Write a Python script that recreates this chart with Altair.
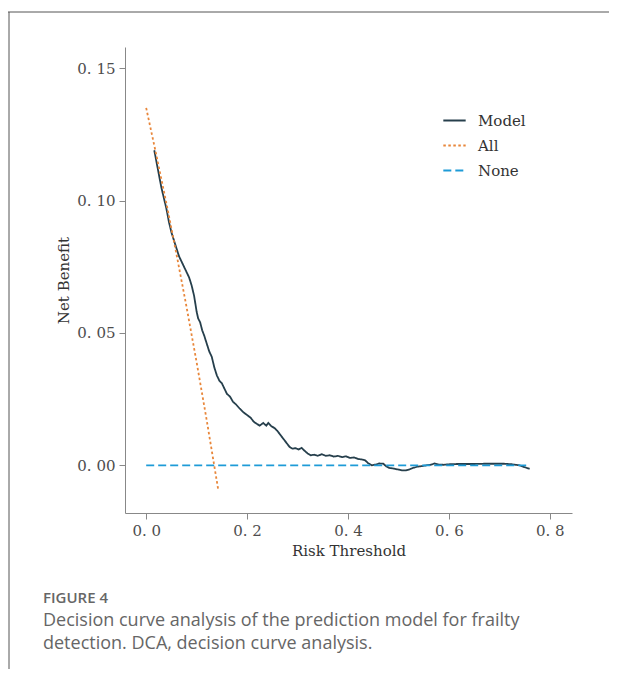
import altair as alt
import pandas as pd

# ---- data ----
model_t = [0.016, 0.020, 0.025, 0.030, 0.035, 0.040, 0.045, 0.050, 0.055, 0.060,
           0.065, 0.070, 0.075, 0.080, 0.085, 0.090, 0.095, 0.100, 0.103, 0.107,
           0.111, 0.115, 0.120, 0.125, 0.130, 0.135, 0.140, 0.145, 0.150, 0.155,
           0.160, 0.166, 0.172, 0.178, 0.185, 0.193, 0.200, 0.207, 0.213, 0.219,
           0.225, 0.232, 0.238, 0.242, 0.248, 0.255, 0.260, 0.266, 0.272, 0.278,
           0.284, 0.290, 0.296, 0.302, 0.308, 0.314, 0.320, 0.326, 0.333, 0.340,
           0.348, 0.356, 0.364, 0.372, 0.380, 0.388, 0.396, 0.404, 0.412, 0.420,
           0.428, 0.434, 0.440, 0.447, 0.455, 0.462, 0.470, 0.476, 0.482, 0.490,
           0.500, 0.508, 0.515, 0.522, 0.530, 0.538, 0.546, 0.555, 0.563, 0.572,
           0.580, 0.590, 0.600, 0.615, 0.630, 0.650, 0.670, 0.690, 0.710, 0.725,
           0.740, 0.750, 0.760]
model_nb = [0.119, 0.115, 0.110, 0.105, 0.101, 0.097, 0.092, 0.088, 0.085, 0.082,
            0.079, 0.077, 0.075, 0.073, 0.071, 0.068, 0.064, 0.058, 0.0555, 0.054,
            0.051, 0.049, 0.046, 0.043, 0.041, 0.037, 0.034, 0.032, 0.031, 0.029,
            0.027, 0.026, 0.024, 0.023, 0.0215, 0.020, 0.019, 0.018, 0.0165, 0.0157,
            0.0150, 0.0160, 0.0150, 0.0160, 0.0148, 0.0140, 0.0130, 0.0115, 0.0100, 0.0085,
            0.0070, 0.0063, 0.0065, 0.0060, 0.0066, 0.0055, 0.0045, 0.0038, 0.0040, 0.0036,
            0.0042, 0.0036, 0.0038, 0.0033, 0.0036, 0.0031, 0.0034, 0.0028, 0.0030, 0.0024,
            0.0022, 0.0019, 0.0008, 0.0000, 0.0003, 0.0007, 0.0006, -0.0004, -0.0010, -0.0012,
            -0.0016, -0.0019, -0.0019, -0.0015, -0.0009, -0.0005, -0.0003, 0.0000, 0.0002, 0.0007,
            0.0003, 0.0002, 0.0004, 0.0005, 0.0005, 0.0005, 0.0006, 0.0006, 0.0006, 0.0004,
            0.0000, -0.0007, -0.0013]

all_t = [0.0, 0.02, 0.04, 0.06, 0.08, 0.10, 0.12, 0.1426]
all_nb = [0.135, 0.1173, 0.0990, 0.0798, 0.0598, 0.0389, 0.0170, -0.0090]

none_t = [0.0, 0.76]
none_nb = [0.0, 0.0]

series_names = ["Model", "All", "None"]
series_colors = ["#263F4C", "#E8863A", "#1E9BD7"]
series_dash = [[1, 0], [2.5, 2.5], [8, 4]]

x_ticks = [0.0, 0.2, 0.4, 0.6, 0.8]
y_ticks = [0.0, 0.05, 0.10, 0.15]

caption_head = "FIGURE 4"
caption_lines = ["Decision curve analysis of the prediction model for frailty",
                 "detection. DCA, decision curve analysis."]

# ---- build table ----
rows = []
for name, ts, vs in [("Model", model_t, model_nb), ("All", all_t, all_nb), ("None", none_t, none_nb)]:
    for i, (t, v) in enumerate(zip(ts, vs)):
        rows.append({"t": t, "nb": v, "series": name, "order": i})
df = pd.DataFrame(rows)

FONT = "DejaVu Serif"
W, H = 447, 466

lines = alt.Chart(df).mark_line(strokeWidth=1.8, clip=False).encode(
    x=alt.X("t:Q", title="Risk Threshold",
            scale=alt.Scale(domain=[-0.042, 0.844], nice=False, zero=False),
            axis=alt.Axis(values=x_ticks, labelExpr="replace(format(datum.value, '.1f'), '.', '. ')")),
    y=alt.Y("nb:Q", title="Net Benefit",
            scale=alt.Scale(domain=[-0.018, 0.158], nice=False, zero=False),
            axis=alt.Axis(values=y_ticks, labelExpr="replace(format(datum.value, '.2f'), '.', '. ')")),
    color=alt.Color("series:N", title=None,
                    scale=alt.Scale(domain=series_names, range=series_colors),
                    legend=alt.Legend(orient="none", legendX=317, legendY=61,
                                      symbolType="stroke", symbolSize=500,
                                      symbolStrokeWidth=2, labelOffset=11,
                                      rowPadding=4, labelFont=FONT, labelFontSize=15,
                                      labelColor="#333333")),
    strokeDash=alt.StrokeDash("series:N", title=None,
                              scale=alt.Scale(domain=series_names, range=series_dash)),
    order="order:Q",
)

blank = alt.Data(values=[{}])

frame_top = alt.Chart(blank).mark_rule(color="#555555", strokeWidth=1).encode(
    x=alt.value(-117), x2=alt.value(617 - 125), y=alt.value(12 - 47))
frame_left = alt.Chart(blank).mark_rule(color="#555555", strokeWidth=1).encode(
    x=alt.value(9 - 125), y=alt.value(12 - 47), y2=alt.value(677 - 47))

cap_head = alt.Chart(blank).mark_text(
    text=caption_head, align="left", baseline="middle", font="Open Sans",
    fontSize=15, fontWeight=600, color="#666666").encode(
    x=alt.value(43 - 125), y=alt.value(598 - 47))
cap_body = alt.Chart(blank).mark_text(
    text=caption_lines, align="left", baseline="middle", font="Open Sans",
    fontSize=18, lineHeight=23, color="#666666").encode(
    x=alt.value(43 - 125), y=alt.value(621 - 47))

chart = alt.layer(frame_top, frame_left, lines, cap_head, cap_body).properties(
    width=W, height=H,
    autosize=alt.AutoSizeParams(type="none"),
    padding={"left": 117, "top": 39, "right": 37, "bottom": 156},
).configure_view(stroke=None).configure_axis(
    grid=False, domainColor="#888888", tickColor="#888888", tickSize=6,
    labelFont=FONT, labelFontSize=15, labelColor="#4d4d4d", labelPadding=4,
    titleFont=FONT, titleFontSize=15, titleColor="#333333", titleFontWeight="normal",
).configure_axisX(titlePadding=5).configure_axisY(titlePadding=5)

chart.save("out.html", embed_options={"renderer": "svg", "actions": False})
